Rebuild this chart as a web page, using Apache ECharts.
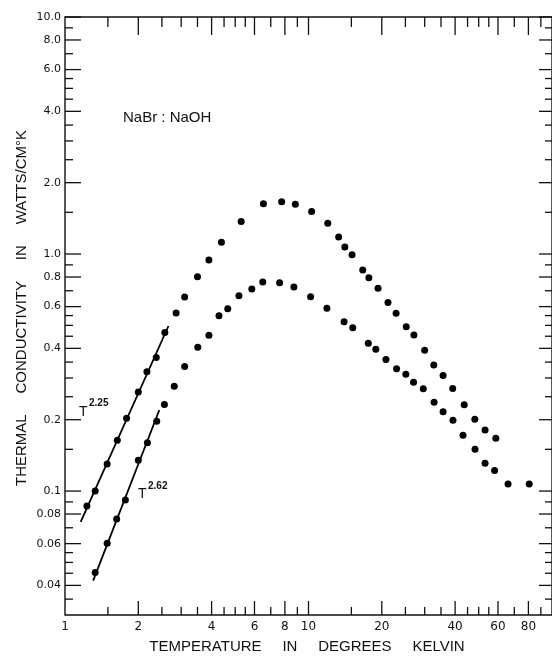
<!DOCTYPE html>
<html><head><meta charset="utf-8">
<script src="https://cdn.jsdelivr.net/npm/echarts@6/dist/echarts.min.js"></script>
<style>html,body{margin:0;padding:0;background:#fff}#c{width:552px;height:656px}</style>
</head><body><div id="c"></div>
<script>
// ---- data (temperature in K, conductivity in W/cm K) ----
const upperT = [1.23,1.33,1.49,1.64,1.79,2.0,2.17,2.37,2.57,2.86,3.1,3.5,3.9,4.39,5.29,6.53,7.76,8.83,10.3,12.0,13.3,14.1,15.1,16.7,17.7,19.3,21.2,22.9,25.2,27.1,30.0,32.7,35.7,39.1,43.6,48.2,53.1,58.8];
const upperK = [0.0865,0.100,0.130,0.164,0.203,0.262,0.319,0.366,0.467,0.564,0.659,0.802,0.943,1.12,1.37,1.63,1.66,1.62,1.51,1.35,1.18,1.07,0.993,0.856,0.794,0.717,0.625,0.562,0.493,0.455,0.393,0.340,0.307,0.271,0.231,0.201,0.181,0.167];
const lowerT = [1.33,1.49,1.63,1.77,2.0,2.18,2.38,2.56,2.81,3.1,3.51,3.9,4.29,4.66,5.18,5.85,6.49,7.61,8.71,10.2,11.9,14.0,15.2,17.6,18.9,20.8,23.0,25.1,27.0,29.6,32.8,35.7,39.2,43.1,48.3,53.1,58.1,66.0,80.6];
const lowerK = [0.0453,0.0603,0.0763,0.0916,0.135,0.160,0.197,0.232,0.277,0.335,0.404,0.454,0.549,0.588,0.667,0.712,0.762,0.757,0.726,0.661,0.590,0.518,0.489,0.420,0.397,0.359,0.328,0.311,0.288,0.270,0.237,0.216,0.199,0.172,0.150,0.131,0.122,0.107,0.107];
const fit225T = [1.16, 2.66];
const fit225K = [0.0742, 0.497];
const fit262T = [1.305, 2.44];
const fit262K = [0.0419, 0.2197];

// ---- axes / ticks ----
const xMin = 1, xMax = 100, yMin = 0.03, yMax = 10;
const xMajorTicks = [2,4,6,8,10,20,40,60,80];
const xMinorTicks = [1.5,2.5,3,3.5,4.5,5,5.5,7,9,15,25,30,35,45,50,55,70,90];
const xLabelValues = [1,2,4,6,8,10,20,40,60,80];
const xTickLabels = ['1','2','4','6','8','10','20','40','60','80'];
const yMajorTicks = [10,8,6,4,2,1,0.8,0.6,0.4,0.2,0.1,0.08,0.06,0.04];
const yTickLabels = ['10.0','8.0','6.0','4.0','2.0','1.0','0.8','0.6','0.4','0.2','0.1','0.08','0.06','0.04'];
const yMinorTicks = [9,7,5.5,5,4.5,3.5,3,2.5,1.5,0.9,0.7,0.55,0.5,0.45,0.35,0.3,0.25,0.15,0.09,0.07,0.055,0.05,0.045,0.035];

const xTitle = 'TEMPERATURE     IN     DEGREES     KELVIN';
const yTitle = 'THERMAL     CONDUCTIVITY     IN     WATTS/CM°K';
const sampleLabel = 'NaBr : NaOH';

const INK = '#111';
const zip = (a, b) => a.map((v, i) => [v, b[i]]);

const xTickData = xMajorTicks.map(v => [v, yMin, 1]).concat(xMinorTicks.map(v => [v, yMin, 0]));
const yTickData = yMajorTicks.map(v => [xMin, v, 1]).concat(yMinorTicks.map(v => [xMin, v, 0]));

const chart = echarts.init(document.getElementById('c'), null, {renderer: 'canvas'});
chart.setOption({
  animation: false,
  backgroundColor: '#fff',
  grid: {left: 65, width: 490, top: 17, bottom: 41, show: true, borderColor: INK, borderWidth: 1.4, backgroundColor: 'transparent'},
  xAxis: {type: 'log', logBase: 10, min: xMin, max: xMax,
    axisLine: {show: false}, axisTick: {show: false}, axisLabel: {show: false}, splitLine: {show: false}, minorTick: {show: false}},
  yAxis: {type: 'log', logBase: 10, min: yMin, max: yMax,
    axisLine: {show: false}, axisTick: {show: false}, axisLabel: {show: false}, splitLine: {show: false}, minorTick: {show: false}},
  graphic: [
    {type: 'text', x: 307, y: 647, style: {text: xTitle, font: '15px "Liberation Sans"', fill: INK, align: 'center', verticalAlign: 'middle'}},
    {type: 'text', x: 22, y: 308, rotation: Math.PI / 2, style: {text: yTitle, font: '15px "Liberation Sans"', fill: INK, align: 'center', verticalAlign: 'middle'}},
    {type: 'text', x: 123, y: 118, style: {text: sampleLabel, font: '15px "Liberation Sans"', fill: INK, align: 'left', verticalAlign: 'middle'}},
    {type: 'text', x: 79, y: 412, style: {text: 'T', font: '14px "Liberation Sans"', fill: INK, align: 'left', verticalAlign: 'middle'}},
    {type: 'text', x: 89, y: 403, style: {text: '2.25', font: 'bold 10px "Liberation Sans"', fill: INK, align: 'left', verticalAlign: 'middle'}},
    {type: 'text', x: 138, y: 494, style: {text: 'T', font: '14px "Liberation Sans"', fill: INK, align: 'left', verticalAlign: 'middle'}},
    {type: 'text', x: 148, y: 486, style: {text: '2.62', font: 'bold 10px "Liberation Sans"', fill: INK, align: 'left', verticalAlign: 'middle'}}
  ],
  series: [
    {type: 'custom', coordinateSystem: 'cartesian2d', silent: true, clip: false, z: 1,
      encode: {x: 0, y: 1}, data: xTickData,
      renderItem: function (params, api) {
        const v = api.value(0), major = api.value(2);
        const pb = api.coord([v, yMin]), pt = api.coord([v, yMax]);
        const lb = major ? 14 : 8, lt = major ? 18 : 10;
        const st = {stroke: INK, lineWidth: 1.3};
        return {type: 'group', children: [
          {type: 'line', shape: {x1: pb[0], y1: pb[1], x2: pb[0], y2: pb[1] - lb}, style: st},
          {type: 'line', shape: {x1: pt[0], y1: pt[1], x2: pt[0], y2: pt[1] + lt}, style: st}
        ]};
      }},
    {type: 'custom', coordinateSystem: 'cartesian2d', silent: true, clip: false, z: 1,
      encode: {x: 0, y: 1}, data: yTickData,
      renderItem: function (params, api) {
        const v = api.value(1), major = api.value(2);
        const pl = api.coord([xMin, v]), pr = api.coord([xMax, v]);
        const ll = major ? 16 : 8, lr = major ? 13 : 7;
        const st = {stroke: INK, lineWidth: 1.3};
        return {type: 'group', children: [
          {type: 'line', shape: {x1: pl[0], y1: pl[1], x2: pl[0] + ll, y2: pl[1]}, style: st},
          {type: 'line', shape: {x1: pr[0], y1: pr[1], x2: pr[0] - lr, y2: pr[1]}, style: st}
        ]};
      }},
    {type: 'custom', coordinateSystem: 'cartesian2d', silent: true, clip: false, z: 1,
      encode: {x: 0, y: 1}, data: xLabelValues.map(v => [v, yMin]),
      renderItem: function (params, api) {
        const p = api.coord([api.value(0), yMin]);
        return {type: 'text', x: p[0], y: p[1] + 12,
          style: {text: xTickLabels[params.dataIndex], font: '12px "DejaVu Sans"', fill: INK, align: 'center', verticalAlign: 'middle'}};
      }},
    {type: 'custom', coordinateSystem: 'cartesian2d', silent: true, clip: false, z: 1,
      encode: {x: 0, y: 1}, data: yMajorTicks.map(v => [xMin, v]),
      renderItem: function (params, api) {
        const p = api.coord([xMin, api.value(1)]);
        return {type: 'text', x: p[0] - 4, y: p[1],
          style: {text: yTickLabels[params.dataIndex], font: '11px "DejaVu Sans"', fill: INK, align: 'right', verticalAlign: 'middle'}};
      }},
    {type: 'line', data: zip(fit225T, fit225K), showSymbol: false, symbol: 'none', silent: true,
      lineStyle: {color: '#000', width: 1.8}, z: 3},
    {type: 'line', data: zip(fit262T, fit262K), showSymbol: false, symbol: 'none', silent: true,
      lineStyle: {color: '#000', width: 1.8}, z: 3},
    {type: 'scatter', data: zip(upperT, upperK), symbol: 'circle', symbolSize: 7,
      itemStyle: {color: '#000', opacity: 1}, silent: true, z: 4},
    {type: 'scatter', data: zip(lowerT, lowerK), symbol: 'circle', symbolSize: 7,
      itemStyle: {color: '#000', opacity: 1}, silent: true, z: 4}
  ]
});
</script></body></html>
